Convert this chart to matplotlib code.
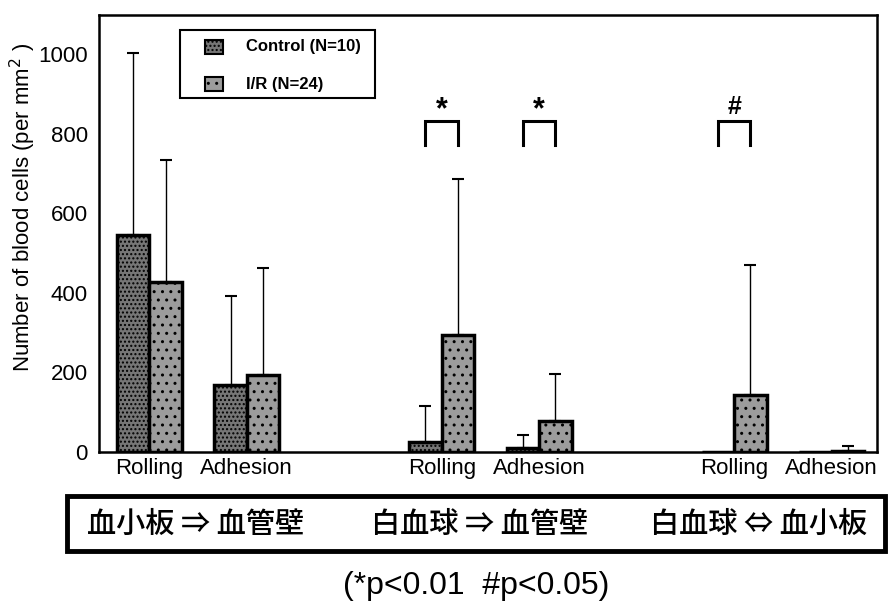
import matplotlib
matplotlib.use("Agg")
import matplotlib.pyplot as plt
from matplotlib.patches import Rectangle
import numpy as np

# Data
categories = ["Rolling", "Adhesion", "Rolling", "Adhesion", "Rolling", "Adhesion"]
control_mean = [545, 168, 25, 10, 0, 0]
control_err = [458, 224, 90, 33, 0, 0]
ir_mean = [427, 193, 294, 78, 143, 3]
ir_err = [306, 270, 392, 118, 327, 12]
group_labels = ["血小板 ⇒ 血管壁", "白血球 ⇒ 血管壁", "白血球 ⇔ 血小板"]
legend_labels = ["Control (N=10)", "I/R (N=24)"]
sig_marks = [(2, "*"), (3, "*"), (4, "#")]
yticks = [0, 200, 400, 600, 800, 1000]
footnote = "(*p<0.01  #p<0.05)"

plt.rcParams['font.family'] = ['Liberation Sans', 'DejaVu Sans']
plt.rcParams['hatch.color'] = 'black'

W, H = 888, 610
fig = plt.figure(figsize=(W/100, H/100), dpi=100)
ax = fig.add_axes([99/W, 1-452/H, (877-99)/W, (452-15)/H])

centers = np.array([0, 3, 9, 12, 18, 21], dtype=float)
w = 1.0
ctrl_color = "#767676"
ir_color = "#9c9c9c"
ctrl_hatch = "...."
ir_hatch = ".."

ax.bar(centers - w/2, control_mean, width=w, color=ctrl_color, edgecolor="black",
       linewidth=2.5, hatch=ctrl_hatch, label=legend_labels[0], zorder=3)
ax.bar(centers + w/2, ir_mean, width=w, color=ir_color, edgecolor="black",
       linewidth=2.5, hatch=ir_hatch, label=legend_labels[1], zorder=3)

# error bars (upper only)
for i in range(len(centers)):
    if control_err[i] > 0:
        ax.errorbar(centers[i] - w/2, control_mean[i], yerr=[[0], [control_err[i]]],
                    color="black", lw=1, capsize=4, capthick=1.5, zorder=2)
    if ir_err[i] > 0:
        ax.errorbar(centers[i] + w/2, ir_mean[i], yerr=[[0], [ir_err[i]]],
                    color="black", lw=1, capsize=4, capthick=1.5, zorder=2)

# significance brackets
for idx, mark in sig_marks:
    x0 = centers[idx] - w/2
    x1 = centers[idx] + w/2
    ax.plot([x0, x0, x1, x1], [772, 832, 832, 772], color="black", lw=2.2,
            solid_joinstyle="miter")
    if mark == "*":
        ax.text((x0 + x1)/2, 858, mark, ha="center", va="center", fontsize=22,
                fontweight="bold")
    else:
        ax.text((x0 + x1)/2, 866, mark, ha="center", va="center", fontsize=18,
                fontweight="bold")

ax.set_xlim(-1.55, 22.4)
ax.set_ylim(0, 1098)
ax.set_yticks(yticks)
ax.set_yticklabels([str(v) for v in yticks], fontsize=16)
ax.set_xticks(centers)
ax.set_xticklabels(categories, fontsize=16)
ax.tick_params(axis='x', length=0, pad=4)
ax.tick_params(axis='y', length=0, pad=8)
for s in ax.spines.values():
    s.set_linewidth(1.8)
ax.set_ylabel("Number of blood cells (per mm$^2$ )", fontsize=16)
ax.yaxis.set_label_coords((38-99)/778, (452-207)/437)

# legend drawn in figure pixel coordinates
def fx(px):
    return px / W

def fy(py):
    return 1 - py / H

fig.add_artist(Rectangle((fx(180), fy(98)), fx(375) - fx(180), fy(30) - fy(98),
                         transform=fig.transFigure, fill=False, edgecolor="black",
                         linewidth=1.5))
leg_rows = [(47, ctrl_color, ctrl_hatch), (84, ir_color, ir_hatch)]
for (row_y, col, hat), lab in zip(leg_rows, legend_labels):
    fig.add_artist(Rectangle((fx(205), fy(row_y + 7)), fx(223) - fx(205), fy(row_y - 7) - fy(row_y + 7),
                             transform=fig.transFigure, facecolor=col, edgecolor="black",
                             linewidth=1.5, hatch=hat))
    fig.text(fx(246), fy(row_y), lab, ha="left", va="center", fontsize=12,
             fontweight="bold")

# lower box with group labels
fig.add_artist(Rectangle((fx(67), fy(551)), fx(885) - fx(67), fy(496) - fy(551),
                         transform=fig.transFigure, fill=False, edgecolor="black",
                         linewidth=3.5))
cjk = ['Noto Sans CJK JP', 'DejaVu Sans']
label_x = [196, 480, 759]
for i, lab in enumerate(group_labels):
    fig.text(fx(label_x[i]), fy(524), lab, ha="center", va="center", fontsize=21,
             family=cjk, fontweight="medium")

fig.text(fx(476), fy(586), footnote, ha="center", va="center", fontsize=23)

fig.savefig("out.png", dpi=100)
